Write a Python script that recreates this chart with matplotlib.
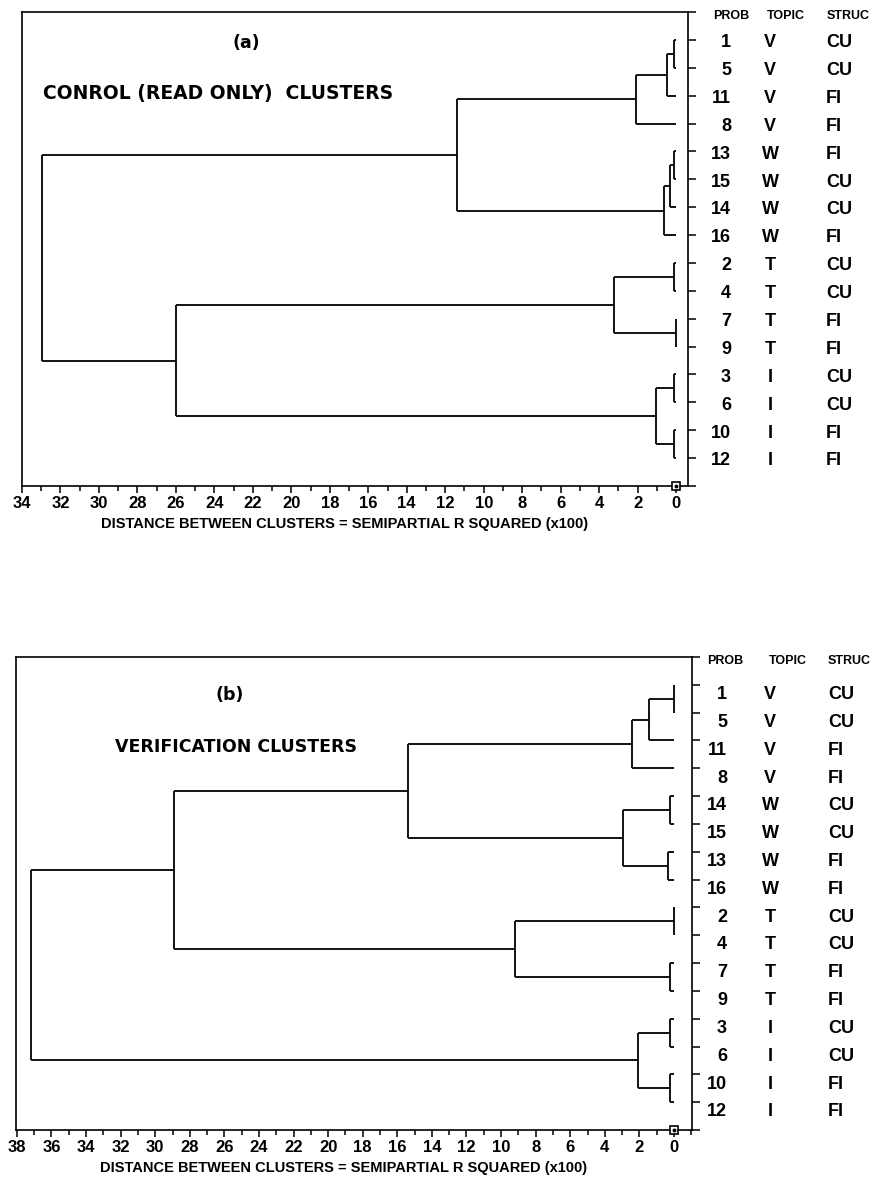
import matplotlib
matplotlib.use("Agg")
import matplotlib.pyplot as plt
from matplotlib.ticker import MultipleLocator

plt.rcParams['font.family'] = ['Liberation Sans', 'DejaVu Sans']
plt.rcParams['font.weight'] = 'bold'
plt.rcParams['axes.labelweight'] = 'bold'

# ---- panel (a): control (read only) ----
order_a = [1, 5, 11, 8, 13, 15, 14, 16, 2, 4, 7, 9, 3, 6, 10, 12]
topic_a = ['V', 'V', 'V', 'V', 'W', 'W', 'W', 'W', 'T', 'T', 'T', 'T', 'I', 'I', 'I', 'I']
struc_a = ['CU', 'CU', 'FI', 'FI', 'FI', 'CU', 'CU', 'FI', 'CU', 'CU', 'FI', 'FI', 'CU', 'CU', 'FI', 'FI']
# (cluster, cluster, distance); ints are problems, 'mK' is the K-th merge
merges_a = [
    (1, 5, 0.10),
    ('m0', 11, 0.45),
    ('m1', 8, 2.10),
    (13, 15, 0.10),
    ('m3', 14, 0.30),
    ('m4', 16, 0.65),
    ('m2', 'm5', 11.4),
    (2, 4, 0.10),
    (7, 9, 0.0),
    ('m7', 'm8', 3.25),
    (3, 6, 0.10),
    (10, 12, 0.10),
    ('m10', 'm11', 1.05),
    ('m9', 'm12', 26.0),
    ('m6', 'm13', 32.95),
]

# ---- panel (b): verification ----
order_b = [1, 5, 11, 8, 14, 15, 13, 16, 2, 4, 7, 9, 3, 6, 10, 12]
topic_b = ['V', 'V', 'V', 'V', 'W', 'W', 'W', 'W', 'T', 'T', 'T', 'T', 'I', 'I', 'I', 'I']
struc_b = ['CU', 'CU', 'FI', 'FI', 'CU', 'CU', 'FI', 'FI', 'CU', 'CU', 'FI', 'FI', 'CU', 'CU', 'FI', 'FI']
merges_b = [
    (1, 5, 0.0),
    ('m0', 11, 1.45),
    ('m1', 8, 2.45),
    (14, 15, 0.25),
    (13, 16, 0.35),
    ('m3', 'm4', 2.95),
    ('m2', 'm5', 15.4),
    (2, 4, 0.0),
    (7, 9, 0.25),
    ('m7', 'm8', 9.2),
    ('m6', 'm9', 28.9),
    (3, 6, 0.25),
    (10, 12, 0.25),
    ('m11', 'm12', 2.1),
    ('m10', 'm13', 37.2),
]

xlabel = 'DISTANCE BETWEEN CLUSTERS = SEMIPARTIAL R SQUARED (x100)'

W, H = 878, 1198
fig = plt.figure(figsize=(W / 100, H / 100), dpi=100)


def px_axes(l, t, r, b):
    return fig.add_axes([l / W, 1 - b / H, (r - l) / W, (b - t) / H])


def draw_tree(ax, order, merges):
    pos = {p: i + 1 for i, p in enumerate(order)}
    hgt = {p: 0.0 for p in order}
    kw = dict(color='black', lw=1.3, solid_capstyle='butt')
    for k, (a, b, d) in enumerate(merges):
        ya, yb = pos[a], pos[b]
        ax.plot([d, d], [ya, yb], **kw)
        ax.plot([hgt[a], d], [ya, ya], **kw)
        ax.plot([hgt[b], d], [yb, yb], **kw)
        pos['m%d' % k] = (ya + yb) / 2
        hgt['m%d' % k] = d


def panel(ax, order, topic, struc, merges, xmax, xmin, tag, title, cols, hcols, dy):
    draw_tree(ax, order, merges)
    ax.set_xlim(xmax, xmin)
    ax.set_ylim(17, 0)
    ax.xaxis.set_major_locator(MultipleLocator(2))
    ax.xaxis.set_minor_locator(MultipleLocator(1))
    ax.set_xticks(range(0, int(xmax) + 1, 2))
    ax.tick_params(axis='x', which='major', direction='out', length=5, width=1.1,
                   labelsize=12, pad=2)
    ax.tick_params(axis='x', which='minor', direction='out', length=3.5, width=1.1)
    ax.yaxis.tick_right()
    ax.set_yticks(range(0, 18))
    ax.set_yticklabels([])
    ax.tick_params(axis='y', direction='out', length=6, width=1.1)
    for s in ax.spines.values():
        s.set_linewidth(1.2)
    ax.plot(0, 17, marker='s', ms=6, mfc='white', mec='black', mew=1.2, clip_on=False, zorder=5)
    ax.plot(0, 17, marker='o', ms=1.8, color='black', clip_on=False, zorder=6)

    tr = ax.get_yaxis_transform()
    for i, (p, t, s) in enumerate(zip(order, topic, struc)):
        y = i + 1
        ax.annotate(str(p), xy=(1, y), xycoords=tr, xytext=(cols[0] * 0.72, dy),
                    textcoords='offset points', ha='right', va='center', fontsize=13)
        ax.annotate(t, xy=(1, y), xycoords=tr, xytext=(cols[1] * 0.72, dy),
                    textcoords='offset points', ha='center', va='center', fontsize=13)
        ax.annotate(s, xy=(1, y), xycoords=tr, xytext=(cols[2] * 0.72, dy),
                    textcoords='offset points', ha='left', va='center', fontsize=13)
    for name, hx in zip(['PROB', 'TOPIC', 'STRUC'], hcols):
        ax.annotate(name, xy=(1, 0), xycoords=tr, xytext=(hx * 0.72, -3),
                    textcoords='offset points', ha='center', va='center', fontsize=9)

    ax.text(tag[1], tag[2], tag[0], transform=ax.transAxes, ha='center', va='center',
            fontsize=12.5, family='DejaVu Sans')
    ax.text(title[1], title[2], title[0], transform=ax.transAxes, ha='left', va='center',
            fontsize=title[3], family='DejaVu Sans')
    ax.set_xlabel(xlabel, fontsize=10.5)
    ax.xaxis.set_label_coords(0.484, -0.066)


ax_a = px_axes(22, 12, 688, 486)
panel(ax_a, order_a, topic_a, struc_a, merges_a, 34.0, -0.62,
      ('(a)', (246 - 22) / 666, 1 - (43 - 12) / 474),
      ('CONROL (READ ONLY)  CLUSTERS', (43 - 22) / 666, 1 - (93 - 12) / 474, 13.5),
      (43, 82, 138), (43, 98, 160), -2)

ax_b = px_axes(16, 657, 692, 1130)
panel(ax_b, order_b, topic_b, struc_b, merges_b, 38.05, -1.04,
      ('(b)', (230 - 16) / 676, 1 - (695 - 657) / 473),
      ('VERIFICATION CLUSTERS', (115 - 16) / 676, 1 - (747 - 657) / 473, 12.5),
      (35, 78, 136), (33, 96, 157), -7)

fig.savefig('out.png', dpi=100)
